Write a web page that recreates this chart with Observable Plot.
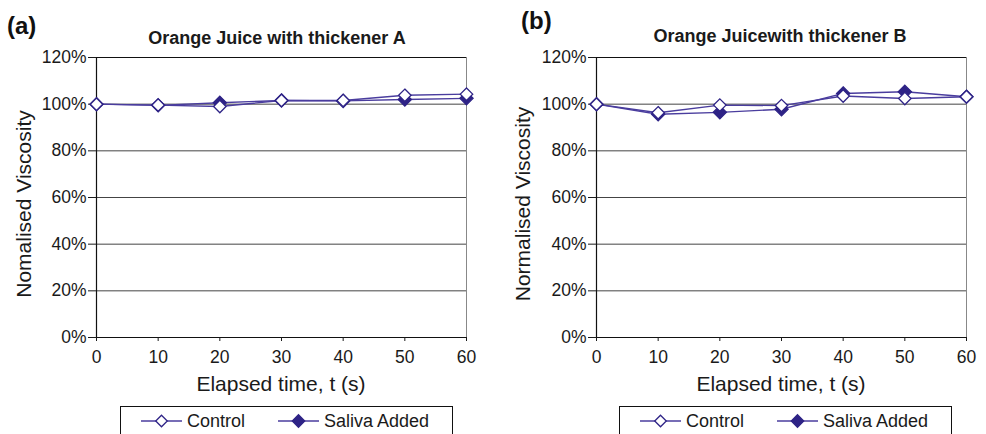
<!DOCTYPE html>
<html>
<head>
<meta charset="utf-8">
<script src="https://cdn.jsdelivr.net/npm/d3@7"></script>
<script src="https://cdn.jsdelivr.net/npm/@observablehq/plot@0.6"></script>
<style>
  html, body { margin: 0; padding: 0; background: #fff; }
  #wrap { position: relative; width: 986px; height: 434px; overflow: hidden; background: #fff;
          font-family: "Liberation Sans", Arial, Helvetica, sans-serif; }
  #wrap > svg, #wrap > div { position: absolute; top: 0; }
  #overlay { left: 0; top: 0; pointer-events: none; }
</style>
</head>
<body>
<div id="wrap">
  <div id="pa" style="left:0"></div>
  <div id="pb" style="left:493px"></div>
  <svg id="overlay" width="986" height="434"></svg>
</div>
<script>
// ---- data ----
const times = [0, 10, 20, 30, 40, 50, 60];
const aControl = [100, 99.6, 99.0, 101.6, 101.6, 103.8, 104.3];
const aSaliva  = [100, 99.5, 100.6, 101.6, 101.4, 102.0, 102.5];
const bControl = [100, 96.3, 99.6, 99.4, 103.5, 102.4, 103.2];
const bSaliva  = [100, 95.7, 96.5, 97.8, 104.6, 105.3, 103.2];
const yTicks = [0, 20, 40, 60, 80, 100, 120];
const xTicks = [0, 10, 20, 30, 40, 50, 60];
const gridLines = [20, 40, 60, 80, 100];
const seriesNames = ["Control", "Saliva Added"];
const panelLabels = ["(a)", "(b)"];
const panelTitles = ["Orange Juice with thickener A", "Orange Juicewith thickener B"];
const yLabels = ["Nomalised Viscosity", "Normalised Viscosity"];
const xLabel = "Elapsed time, t (s)";

const LINE = "#4a3d9e";
const MARK = "#2e2386";
const FONT = "'Liberation Sans', Arial, Helvetica, sans-serif";

function rows(ctrl, sal) {
  const out = [];
  times.forEach((t, i) => out.push({t, v: ctrl[i], s: seriesNames[0]}));
  times.forEach((t, i) => out.push({t, v: sal[i], s: seriesNames[1]}));
  return out;
}

function panel(ctrl, sal, mLeft, mRight) {
  const data = rows(ctrl, sal);
  const c = data.filter(d => d.s === seriesNames[0]);
  const s = data.filter(d => d.s === seriesNames[1]);
  return Plot.plot({
    width: 493, height: 434,
    marginLeft: mLeft, marginRight: mRight, marginTop: 57, marginBottom: 97,
    style: {fontFamily: FONT, fontSize: "17.5px", color: "#1a1a1a", background: "transparent"},
    x: {domain: [0, 60]},
    y: {domain: [0, 120]},
    marks: [
      Plot.ruleY(gridLines, {stroke: "#444", strokeWidth: 1}),
      Plot.ruleY([120], {stroke: "#111", strokeWidth: 1}),
      Plot.ruleX([60], {stroke: "#888", strokeWidth: 1}),
      Plot.ruleX([0], {stroke: "#111", strokeWidth: 1.2}),
      Plot.ruleY([0], {stroke: "#111", strokeWidth: 1.2}),
      Plot.axisY({ticks: yTicks, tickFormat: d => d + "%", tickSize: 8, tickPadding: 2, label: null, fontSize: 17.5}),
      Plot.axisX({ticks: xTicks, tickFormat: d => String(d), tickSize: 4, tickPadding: 9, label: null, fontSize: 17.5}),
      Plot.line(c, {x: "t", y: "v", stroke: LINE, strokeWidth: 1.4}),
      Plot.line(s, {x: "t", y: "v", stroke: LINE, strokeWidth: 1.4}),
      Plot.dot(s, {x: "t", y: "v", symbol: "diamond2", r: 6, fill: MARK, stroke: MARK, strokeWidth: 1.2}),
      Plot.dot(c, {x: "t", y: "v", symbol: "diamond2", r: 5.6, fill: "white", stroke: MARK, strokeWidth: 1.3})
    ]
  });
}

document.getElementById("pa").appendChild(panel(aControl, aSaliva, 96, 27));
document.getElementById("pb").appendChild(panel(bControl, bSaliva, 103, 20));

// ---- overlay text: panel letters, titles, axis labels, legends ----
const ov = d3.select("#overlay").attr("font-family", FONT);
const cfg = [
  {lx: 7, ly: 34, tx: 277, ty: 44, ylx: 31, xlx: 281, leg: 120},
  {lx: 521, ly: 29, tx: 780, ty: 42, ylx: 530, xlx: 781, leg: 619}
];
cfg.forEach((p, i) => {
  ov.append("text").attr("x", p.lx).attr("y", p.ly).attr("font-size", 24).attr("font-weight", "bold")
    .attr("fill", "#111").text(panelLabels[i]);
  ov.append("text").attr("x", p.tx).attr("y", p.ty).attr("font-size", 18).attr("font-weight", "bold")
    .attr("text-anchor", "middle").attr("fill", "#1a1a1a").text(panelTitles[i]);
  ov.append("text").attr("transform", `translate(${p.ylx},204) rotate(-90)`).attr("font-size", 21)
    .attr("text-anchor", "middle").attr("fill", "#1a1a1a").text(yLabels[i]);
  ov.append("text").attr("x", p.xlx).attr("y", 391).attr("font-size", 21)
    .attr("text-anchor", "middle").attr("fill", "#1a1a1a").text(xLabel);
  // legend box
  ov.append("rect").attr("x", p.leg + 0.5).attr("y", 406.5).attr("width", 332).attr("height", 40)
    .attr("fill", "white").attr("stroke", "#111").attr("stroke-width", 1);
  const items = [
    {x0: p.leg + 21, fill: "white", r: 5.2},
    {x0: p.leg + 158, fill: MARK, r: 5.6}
  ];
  items.forEach((it, k) => {
    ov.append("line").attr("x1", it.x0).attr("x2", it.x0 + 41).attr("y1", 421).attr("y2", 421)
      .attr("stroke", LINE).attr("stroke-width", 1.4);
    ov.append("path").attr("d", d3.symbol(d3.symbolDiamond2, Math.PI * it.r * it.r)())
      .attr("transform", `translate(${it.x0 + 20.5},421)`)
      .attr("fill", it.fill).attr("stroke", MARK).attr("stroke-width", 1.3);
    ov.append("text").attr("x", it.x0 + 46).attr("y", 427).attr("font-size", 18)
      .attr("fill", "#1a1a1a").text(seriesNames[k]);
  });
});
</script>
</body>
</html>
